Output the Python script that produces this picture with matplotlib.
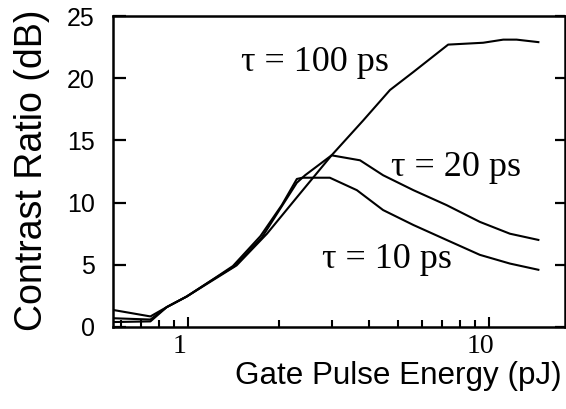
import matplotlib
matplotlib.use("Agg")
import matplotlib.pyplot as plt
import matplotlib.transforms as mtransforms
from matplotlib.ticker import FixedLocator, NullFormatter, LogLocator

# Data
tau10_x = [0.57, 0.75, 0.85, 0.99, 1.18, 1.41, 1.74, 2.05, 2.30, 2.40, 2.96, 3.64, 4.45, 5.61, 7.23, 9.33, 11.74, 14.6]
tau10_y = [0.4, 0.45, 1.6, 2.45, 3.65, 4.9, 7.3, 9.8, 11.9, 12.0, 12.0, 11.0, 9.4, 8.2, 7.0, 5.8, 5.1, 4.6]

tau20_x = [0.57, 0.75, 0.85, 0.99, 1.18, 1.43, 1.76, 2.30, 2.45, 3.0, 3.73, 4.45, 5.61, 7.23, 9.33, 11.74, 14.6]
tau20_y = [0.7, 0.6, 1.6, 2.45, 3.65, 4.9, 7.2, 11.6, 12.2, 13.8, 13.4, 12.2, 11.0, 9.8, 8.45, 7.5, 7.0]

tau100_x = [0.57, 0.75, 0.85, 0.99, 1.18, 1.45, 1.83, 2.36, 3.0, 3.82, 4.69, 5.61, 7.32, 9.57, 11.16, 12.36, 14.6]
tau100_y = [1.35, 0.85, 1.6, 2.45, 3.6, 4.95, 7.5, 10.75, 13.8, 16.6, 19.05, 20.5, 22.7, 22.85, 23.1, 23.1, 22.9]

y_ticks = [0, 5, 10, 15, 20, 25]
x_major = [1, 10]
x_major_labels = ["1", "10"]

labels = ["\u03c4 = 100 ps", "\u03c4 = 20 ps", "\u03c4 = 10 ps"]
label_pos = [(2.64, 21.3), (7.8, 12.8), (4.58, 5.4)]

W, H, DPI = 566, 409, 100
fig = plt.figure(figsize=(W / DPI, H / DPI), dpi=DPI)
ax = fig.add_axes([112.7 / W, 1 - 327 / H, (565 - 112.7) / W, (327 - 16) / H])

for xs, ys in [(tau10_x, tau10_y), (tau20_x, tau20_y), (tau100_x, tau100_y)]:
    ax.plot(xs, ys, color="black", lw=1.5, solid_joinstyle="round")

ax.set_xscale("log")
ax.set_xlim(0.562, 17.9)
ax.set_ylim(0, 25)

ax.xaxis.set_major_locator(FixedLocator(x_major))
ax.xaxis.set_minor_locator(LogLocator(base=10, subs=[2, 3, 4, 5, 6, 7, 8, 9]))
ax.xaxis.set_minor_formatter(NullFormatter())
ax.set_xticklabels(x_major_labels, fontfamily="Liberation Serif", fontsize=20)
ax.set_yticks(y_ticks)
ax.set_yticklabels([str(v) for v in y_ticks], fontfamily="Liberation Sans", fontsize=18)

for s in ax.spines.values():
    s.set_linewidth(1.8)

ax.tick_params(axis="x", which="major", direction="in", length=7, width=1.5, pad=5, top=False)
ax.tick_params(axis="x", which="minor", direction="in", length=5, width=1.5, top=False)
ax.tick_params(axis="y", which="major", direction="in", length=9, width=1.6, pad=13, right=True)
for t in ax.yaxis.get_major_ticks():
    t.tick2line.set_markersize(7)

offset = mtransforms.ScaledTranslation(-8 / DPI, 0, fig.dpi_scale_trans)
for lab in ax.get_xticklabels():
    lab.set_transform(lab.get_transform() + offset)

serif = "Liberation Serif"
for txt, (lx, ly) in zip(labels, label_pos):
    ax.text(lx, ly, txt, fontfamily=serif, fontsize=26, ha="center", va="center")

fig.text(32 / W, 1 - 170 / H, "Contrast Ratio (dB)", rotation=90, ha="center", va="center",
         fontfamily="Liberation Sans", fontsize=27)
fig.text(398 / W, 1 - 376 / H, "Gate Pulse Energy (pJ)", ha="center", va="center",
         fontfamily="Liberation Sans", fontsize=22.6)

fig.savefig("out.png", dpi=DPI)
